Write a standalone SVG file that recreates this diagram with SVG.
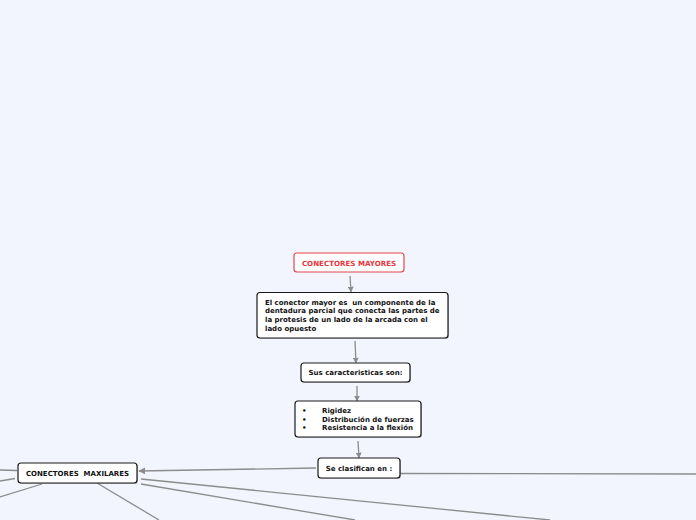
<svg xmlns="http://www.w3.org/2000/svg" width="696" height="520" viewBox="0 0 696 520">
<defs>
<marker id="arr" viewBox="0 0 10 10" refX="9" refY="5" markerWidth="6" markerHeight="6" orient="auto" markerUnits="userSpaceOnUse">
<path d="M0,0 L10,5 L0,10 z" fill="#8c8c8c"/>
</marker>
<marker id="arrb" viewBox="0 0 10 10" refX="9" refY="5" markerWidth="7" markerHeight="7" orient="auto" markerUnits="userSpaceOnUse">
<path d="M0,0 L10,5 L0,10 z" fill="#8c8c8c"/>
</marker>
</defs>
<style>
.bg{fill:#f2f5fe}
.box{fill:#ffffff;stroke:#1a1a1a;stroke-width:1.2}
.shadow{fill:#9a9a9a;opacity:0.6}
.red{fill:#ffffff;stroke:#e8454a;stroke-width:1.2}
.t{font-family:"DejaVu Sans",Verdana,sans-serif;font-weight:bold;font-size:7px;fill:#111}
.tr{font-family:"DejaVu Sans",Verdana,sans-serif;font-weight:bold;font-size:7.1px;fill:#e8353c}
.c{stroke:#8c8c8c;stroke-width:1.3;fill:none}
</style>
<rect class="bg" x="0" y="0" width="696" height="520"/>
<g id="connectors">
<line class="c" x1="350" y1="276" x2="351" y2="292" marker-end="url(#arr)"/>
<line class="c" x1="355" y1="341" x2="356" y2="363" marker-end="url(#arr)"/>
<line class="c" x1="357" y1="386" x2="357" y2="401" marker-end="url(#arr)"/>
<line class="c" x1="358" y1="441" x2="359" y2="458" marker-end="url(#arr)"/>
<line class="c" x1="316" y1="468" x2="139" y2="471" stroke-width="2.2" marker-end="url(#arrb)"/>
<line class="c" x1="400" y1="473.5" x2="696" y2="474"/>
<line class="c" x1="141" y1="479" x2="550" y2="520"/>
<line class="c" x1="141" y1="484" x2="355" y2="520"/>
<line class="c" x1="97" y1="483" x2="159" y2="520"/>
<line class="c" x1="0" y1="470" x2="17" y2="470.5"/>
<line class="c" x1="0" y1="481" x2="15" y2="478.5"/>
<line class="c" x1="0" y1="497" x2="42" y2="484"/>
</g>
<g id="n1">
<rect class="red" x="294" y="253" width="110" height="19" rx="3"/>
<text class="tr" x="349" y="265.5" text-anchor="middle">CONECTORES MAYORES</text>
</g>
<g id="n2">
<rect class="shadow" x="258" y="293.5" width="191" height="45.5" rx="3"/>
<rect class="box" x="257" y="292.5" width="191" height="45.5" rx="3"/>
<text class="t" x="265" y="304.5" xml:space="preserve">El conector mayor es  un componente de la</text>
<text class="t" x="265" y="313.2">dentadura parcial que conecta las partes de</text>
<text class="t" x="265" y="321.9">la protesis de un lado de la arcada con el</text>
<text class="t" x="265" y="330.6">lado opuesto</text>
</g>
<g id="n3">
<rect class="shadow" x="302" y="364" width="109" height="19" rx="3"/>
<rect class="box" x="301" y="363" width="109" height="19" rx="3"/>
<text class="t" x="355.5" y="375" text-anchor="middle">Sus caracteristicas son:</text>
</g>
<g id="n4">
<rect class="shadow" x="296" y="402" width="126" height="36" rx="3"/>
<rect class="box" x="295" y="401" width="126" height="36" rx="3"/>
<text class="t" x="302" y="413">•</text>
<text class="t" x="322" y="413">Rigidez</text>
<text class="t" x="302" y="421.5">•</text>
<text class="t" x="322" y="421.5">Distribución de fuerzas</text>
<text class="t" x="302" y="430">•</text>
<text class="t" x="322" y="430">Resistencia a la flexión</text>
</g>
<g id="n5">
<rect class="shadow" x="319" y="459" width="82" height="20" rx="3"/>
<rect class="box" x="318" y="458" width="82" height="20" rx="3"/>
<text class="t" x="359" y="470.5" text-anchor="middle">Se clasifican en :</text>
</g>
<g id="n6">
<rect class="shadow" x="19" y="464" width="119" height="20" rx="3"/>
<rect class="box" x="18" y="463" width="119" height="20" rx="3"/>
<text class="t" x="77.5" y="475.5" text-anchor="middle" xml:space="preserve">CONECTORES  MAXILARES</text>
</g>
</svg>
